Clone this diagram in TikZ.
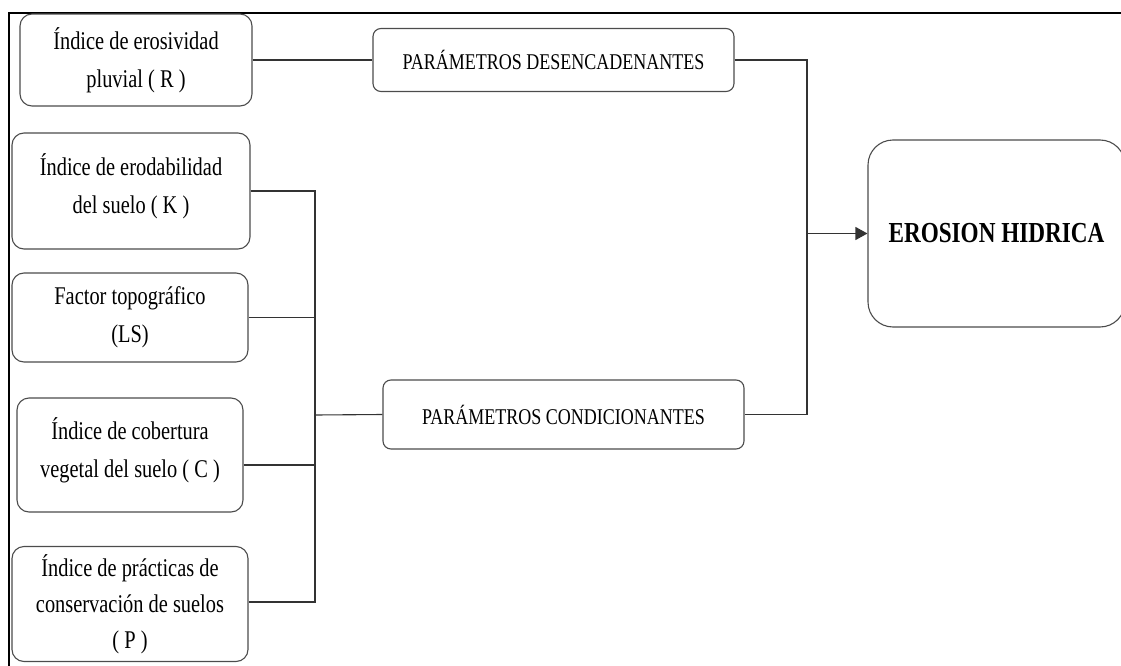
\documentclass[tikz,border=0pt]{standalone}
\usepackage{fontspec}
\setmainfont{Liberation Serif}[FakeStretch=0.8]
\usetikzlibrary{arrows.meta}

\tikzset{
	caja/.style={draw=black!70, line width=1.1pt, rounded corners=12pt, align=center, inner sep=0pt, font=\fontsize{25.5}{38}\selectfont},
	param/.style={caja, rounded corners=8pt, font=\fontsize{22.5}{26}\selectfont},
	linea/.style={draw=black!80, line width=1.1pt},
}

\begin{document}
\begin{tikzpicture}[x=1pt,y=-1pt]
	\useasboundingbox (0,0) rectangle (1121,666);
	\clip (0,0) rectangle (1121,666);
	% marco
	\draw[line width=2pt] (9,666) -- (9,13) -- (1121,13);
	
	% factores
	\node[caja, minimum width=232pt, minimum height=92pt] (R) at (136,60) {Índice de erosividad\\pluvial ( R )};
	\node[caja, minimum width=238pt, minimum height=116pt, text depth=14pt] (K) at (131,191) {Índice de erodabilidad\\del suelo ( K )};
	\node[caja, minimum width=236pt, minimum height=89pt] (LS) at (130,317.5) {Factor topográfico\\(LS)};
	\node[caja, minimum width=226pt, minimum height=114pt, text depth=14pt] (C) at (130,455) {Índice de cobertura\\vegetal del suelo ( C )};
	\node[caja, minimum width=236pt, minimum height=115pt, font=\fontsize{25.5}{36}\selectfont] (P) at (130,604) {Índice de prácticas de\\conservación de suelos\\( P )};
	
	% parametros
	\node[param, minimum width=361pt, minimum height=63pt] (PD) at (553.5,60) {PARÁMETROS DESENCADENANTES};
	\node[param, minimum width=361pt, minimum height=69pt] (PC) at (563.5,414.5) {PARÁMETROS CONDICIONANTES};
	
	\node[caja, rounded corners=25pt, minimum width=257pt, minimum height=187pt, font=\bfseries\fontsize{29}{34}\selectfont] (EH) at (996.5,233.5) {EROSION HIDRICA};
	
	% conexiones
	\coordinate (J) at (315,415);
	\coordinate (M) at (807,233.5);
	\draw[linea] (R) -- (PD);
	\draw[linea] (K.east |- 0,191) -- (J |- 0,191) -- (J |- 0,602) -- (P.east |- 0,602);
	\draw[linea] (LS.east) -- (LS.east -| J);
	\draw[linea] ([yshift=-10pt]C.east) -- ([yshift=-10pt]C.east -| J);
	\draw[linea] (J) -- (PC.west);
	\draw[linea] (PD.east) -- (PD.east -| M) -- (PC.east -| M) -- (PC.east);
	\draw[linea, -{Triangle[length=12pt,width=13pt]}] (M) -- (EH.west);
\end{tikzpicture}
\end{document}
